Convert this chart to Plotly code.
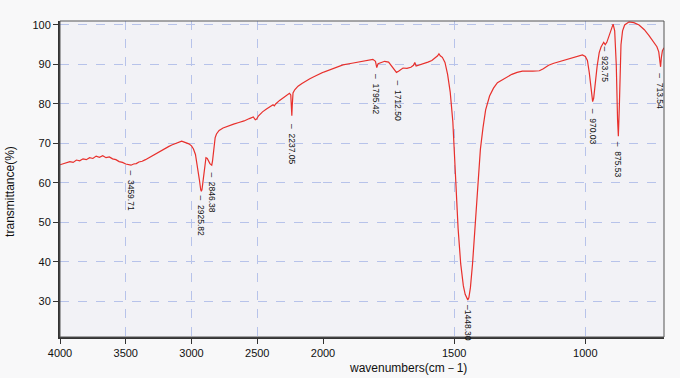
import plotly.graph_objects as go

# ---- data: IR spectrum, high wavenumber segment (4000-2000) ----
wn_hi = [4000, 3975, 3950, 3925, 3900, 3875, 3850, 3825, 3800, 3775, 3750, 3725, 3700, 3675,
         3650, 3625, 3600, 3575, 3550, 3525, 3500, 3475, 3460, 3440, 3420, 3400, 3375, 3350,
         3325, 3300, 3275, 3250, 3225, 3200, 3175, 3150, 3125, 3100, 3075, 3060, 3040, 3020,
         3000, 2985, 2970, 2955, 2940, 2930, 2925, 2920, 2912, 2900, 2890, 2880, 2870, 2860,
         2850, 2846, 2840, 2830, 2820, 2810, 2790, 2760, 2720, 2680, 2640, 2600, 2560, 2530,
         2515, 2505, 2490, 2460, 2430, 2400, 2380, 2370, 2360, 2330, 2300, 2275, 2255, 2245,
         2240, 2237, 2234, 2228, 2215, 2190, 2160, 2130, 2100, 2070, 2040, 2000]
t_hi = [64.6, 64.9, 65.0, 65.4, 65.2, 65.8, 65.6, 66.1, 65.9, 66.4, 66.2, 66.8, 66.5, 66.9,
        66.4, 66.6, 66.1, 65.9, 65.4, 65.2, 64.8, 64.6, 64.5, 64.8, 64.9, 65.3, 65.5, 65.9,
        66.4, 66.8, 67.4, 67.8, 68.3, 68.7, 69.2, 69.6, 70.0, 70.4, 70.6, 70.4, 70.2, 69.9,
        69.4, 68.6, 67.2, 64.5, 60.8, 58.3, 57.9, 58.4, 61.0, 65.0, 66.4, 66.2, 65.5, 64.9,
        64.6, 64.5, 65.6, 69.0, 71.5, 72.4, 73.3, 73.9, 74.5, 74.9, 75.3, 75.7, 76.3, 76.7,
        76.0, 76.2, 77.0, 78.0, 78.7, 79.3, 79.8, 79.5, 80.0, 80.9, 81.7, 82.2, 82.7, 82.3,
        79.5, 77.0, 79.5, 82.8, 83.6, 84.5, 85.2, 85.9, 86.4, 86.9, 87.4, 88.0]

# ---- data: low wavenumber segment (2000-700, expanded scale) ----
wn_lo = [2000, 1960, 1924, 1890, 1860, 1830, 1810, 1800, 1795, 1790, 1780, 1765, 1750, 1740,
         1730, 1720, 1712, 1705, 1695, 1680, 1665, 1655, 1650, 1645, 1630, 1615, 1600, 1585,
         1572, 1563, 1558, 1553, 1545, 1535, 1525, 1515, 1505, 1495, 1485, 1475, 1465, 1458,
         1452, 1448, 1444, 1438, 1430, 1420, 1410, 1400, 1390, 1380, 1365, 1350, 1335, 1320,
         1300, 1280, 1260, 1240, 1200, 1175, 1160, 1140, 1120, 1100, 1075, 1050, 1030, 1011,
         1000, 992, 985, 978, 972, 968, 962, 955, 947, 940, 930, 924, 918, 908, 900, 894, 888,
         882, 877, 874, 870, 864, 858, 850, 833, 815, 795, 775, 757, 740, 727, 720, 716, 713,
         710, 706, 700]
t_lo = [88.0, 89.0, 89.9, 90.3, 90.7, 91.0, 91.3, 90.8, 89.2, 90.2, 90.5, 90.8, 90.6, 89.8,
        89.0, 88.0, 88.3, 88.7, 89.1, 89.0, 89.3, 89.8, 90.5, 89.6, 89.9, 90.3, 90.6, 91.0,
        91.6, 92.2, 92.7, 92.2, 91.8, 90.5, 87.5, 83.0, 75.5, 62.0, 48.5, 39.5, 34.0, 31.8,
        30.8, 30.4, 30.9, 33.5, 39.5, 49.0, 60.0, 68.5, 74.0, 78.5, 82.0, 84.0, 85.4, 86.0,
        86.7, 87.5, 88.0, 88.3, 88.3, 88.4, 88.9, 89.8, 90.3, 90.7, 91.1, 91.6, 92.0, 92.4,
        92.0, 91.0, 88.0, 83.5, 80.6, 81.5, 85.5, 89.5, 93.0, 94.4, 95.6, 95.0, 95.6, 97.5,
        99.5, 100.2, 98.5, 90.0, 76.0, 71.8, 80.0, 95.0, 98.5, 100.0, 100.8, 100.6, 100.0,
        98.8, 97.3, 95.8, 94.5, 93.2, 91.0, 89.4, 91.8, 93.5, 94.2]

# ---- peak labels ----
peak_wn = [3459.71, 2925.82, 2846.38, 2237.05, 1795.42, 1712.50, 1448.30, 970.03, 923.75, 875.53, 713.54]
peak_label_y = [63.4, 57.0, 63.0, 75.2, 87.9, 86.1, 29.4, 79.0, 94.7, 70.7, 87.9]

x_ticks_hi = [4000, 3500, 3000, 2500, 2000]
x_ticks_lo = [1500, 1000]
y_ticks = [30, 40, 50, 60, 70, 80, 90, 100]

RED = "#e8302c"
GRID = "#b7c3ea"
FONT = "Liberation Sans, Arial, sans-serif"

fig = go.Figure()
fig.add_trace(go.Scatter(x=wn_hi, y=t_hi, mode="lines", line=dict(color=RED, width=1.2),
                         xaxis="x", yaxis="y", showlegend=False))
fig.add_trace(go.Scatter(x=wn_lo, y=t_lo, mode="lines", line=dict(color=RED, width=1.2),
                         xaxis="x2", yaxis="y", showlegend=False))

split = 263 / 604
common_x = dict(showgrid=True, gridcolor=GRID, griddash="dash", gridwidth=1, zeroline=False,
                showline=True, linecolor="#333333", linewidth=2, ticks="outside", ticklen=5,
                tickcolor="#333333", tickfont=dict(family=FONT, size=11, color="#111"),
                anchor="y", automargin=False)

annotations = []
for w, yv in zip(peak_wn, peak_label_y):
    txt = ("–" if w == 1448.30 else "–  ") + f"{w:.2f}"
    annotations.append(dict(x=w, y=yv, xref="x" if w >= 2000 else "x2", yref="y",
                            text=txt, textangle=90, showarrow=False, xanchor="center",
                            yanchor="top", borderpad=0,
                            font=dict(family=FONT, size=8.5, color="#111")))

annotations.append(dict(x=-0.083, y=0.462, xref="paper", yref="paper", text="transmittance(%)",
                        textangle=-90, showarrow=False, xanchor="center", yanchor="middle",
                        font=dict(family=FONT, size=12, color="#111")))
annotations.append(dict(x=0.576, y=-0.098, xref="paper", yref="paper", text="wavenumbers(cm－1)",
                        showarrow=False, xanchor="center", yanchor="middle",
                        font=dict(family=FONT, size=12, color="#111")))

fig.update_layout(
    width=680, height=378, autosize=False,
    margin=dict(l=60, r=16, t=21, b=41, autoexpand=False),
    paper_bgcolor="#f8f8f9",
    plot_bgcolor="#f2f2f6",
    xaxis=dict(domain=[0, split], range=[4000, 2000], tickvals=x_ticks_hi, **common_x),
    xaxis2=dict(domain=[split, 1], range=[2000, 700], tickvals=x_ticks_lo, **common_x),
    yaxis=dict(range=[21, 101], tickvals=y_ticks, showgrid=True, gridcolor=GRID, griddash="dash",
               zeroline=False, showline=True, linecolor="#333333", linewidth=2, ticks="outside",
               ticklen=5, tickcolor="#333333", anchor="x", automargin=False,
               tickfont=dict(family=FONT, size=11, color="#111")),
    shapes=[dict(type="rect", xref="paper", yref="paper", x0=0, y0=0, x1=1, y1=1,
                 line=dict(color="#555555", width=1), layer="above")],
    annotations=annotations,
)

fig.write_html("out.html", config={"displayModeBar": False},
               post_script="document.body.style.margin='0px';")
